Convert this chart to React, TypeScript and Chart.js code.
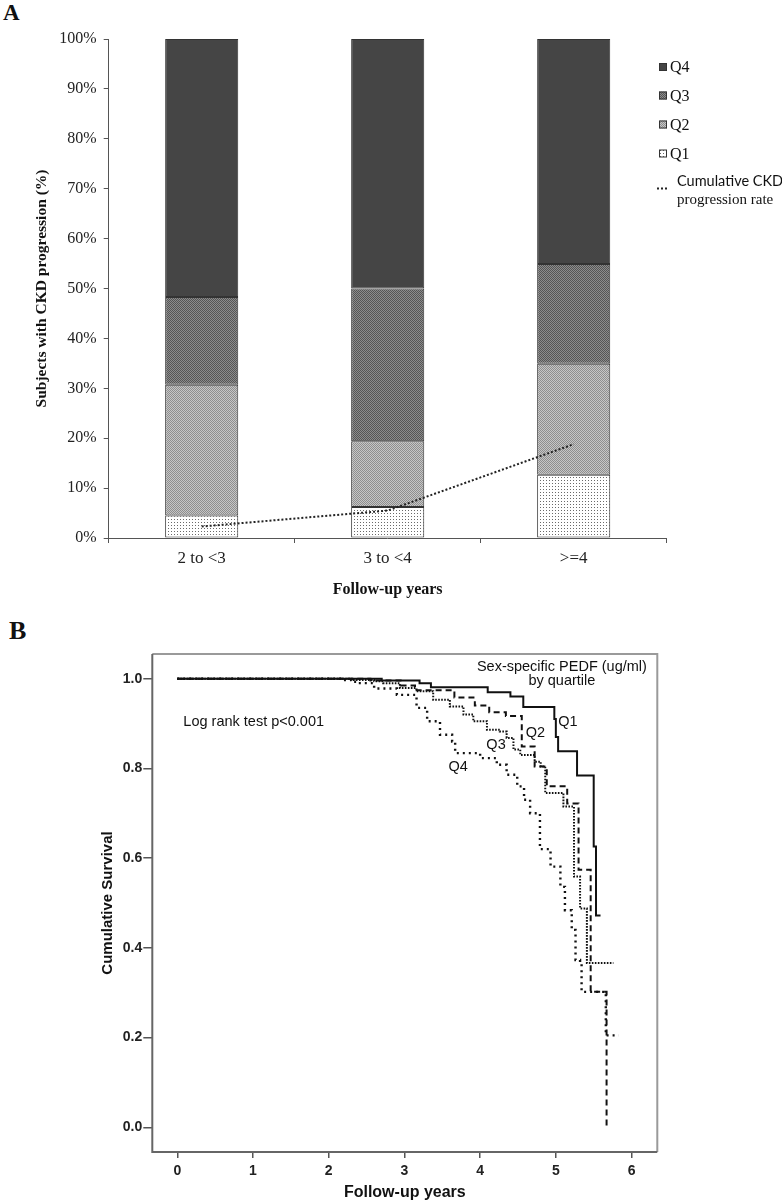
import React, { useEffect, useRef } from 'react';
import { Chart, registerables } from 'chart.js';

Chart.register(...registerables);

// ---------- Panel A data ----------
const followUpGroups = ['2 to <3', '3 to <4', '>=4'];
const q1Share = [4.5, 6.2, 12.7];
const q2Share = [26.2, 13.2, 22.2];
const q3Share = [17.6, 30.6, 20.0];
const q4Share = [51.7, 50.0, 45.1];
const cumulativeRate = [2.3, 5.5, 18.8];
const percentTicks = [0, 10, 20, 30, 40, 50, 60, 70, 80, 90, 100];

// ---------- Panel B data (Kaplan-Meier) ----------
const yearTicks = [0, 1, 2, 3, 4, 5, 6];
const survivalTicks = [0, 0.2, 0.4, 0.6, 0.8, 1.0];

const q1Years = [0, 2.7, 3.2, 3.35, 4.1, 4.4, 4.57, 4.98, 5.0, 5.03, 5.28, 5.5, 5.53, 5.59];
const q1Survival = [1, 0.996, 0.99, 0.981, 0.97, 0.96, 0.937, 0.91, 0.87, 0.838, 0.784, 0.626, 0.472, 0.472];

const q2Years = [0, 2.55, 2.95, 3.14, 3.66, 3.93, 4.12, 4.34, 4.55, 4.72, 4.88, 5.15, 5.3, 5.46, 5.67];
const q2Survival = [1, 0.996, 0.985, 0.974, 0.958, 0.94, 0.925, 0.917, 0.849, 0.804, 0.76, 0.722, 0.574, 0.302, 0.0];

const q3Years = [0, 2.3, 2.6, 2.72, 2.94, 3.16, 3.38, 3.6, 3.78, 3.91, 4.09, 4.26, 4.35, 4.44, 4.53, 4.72, 4.8, 4.86, 5.1, 5.24, 5.32, 5.41, 5.76];
const q3Survival = [1, 0.997, 0.994, 0.99, 0.979, 0.972, 0.953, 0.938, 0.92, 0.905, 0.886, 0.882, 0.868, 0.842, 0.83, 0.815, 0.804, 0.745, 0.715, 0.559, 0.488, 0.366, 0.366];

const q4Years = [0, 2.15, 2.3, 2.37, 2.6, 2.9, 3.16, 3.3, 3.47, 3.63, 3.67, 4.0, 4.22, 4.35, 4.49, 4.58, 4.66, 4.79, 4.93, 5.06, 5.12, 5.21, 5.26, 5.32, 5.34, 5.66, 5.83];
const q4Survival = [1, 0.997, 0.993, 0.99, 0.978, 0.964, 0.935, 0.905, 0.875, 0.86, 0.834, 0.823, 0.808, 0.786, 0.76, 0.73, 0.7, 0.62, 0.581, 0.536, 0.484, 0.44, 0.373, 0.365, 0.302, 0.205, 0.205];

const SERIF = '"Liberation Serif", "Times New Roman", serif';
const SANS = '"Liberation Sans", Arial, sans-serif';

function makePattern(bg: string, fg: string, size: number, cells: number[][]) {
  const c = document.createElement('canvas');
  c.width = size;
  c.height = size;
  const g = c.getContext('2d') as CanvasRenderingContext2D;
  g.fillStyle = bg;
  g.fillRect(0, 0, size, size);
  g.fillStyle = fg;
  cells.forEach(([x, y]) => g.fillRect(x, y, 1, 1));
  return g.createPattern(c, 'repeat') as CanvasPattern;
}

const legendAPlugin = {
  id: 'legendA',
  afterDraw(chart: any) {
    const ctx = chart.ctx as CanvasRenderingContext2D;
    const ds = chart.data.datasets;
    const rows = [
      { idx: 4, y: 67 },
      { idx: 3, y: 95.5 },
      { idx: 2, y: 124.5 },
      { idx: 1, y: 153.5 },
    ];
    ctx.save();
    rows.forEach((r) => {
      ctx.fillStyle = ds[r.idx].backgroundColor;
      ctx.fillRect(659, r.y - 4, 8, 8);
      ctx.strokeStyle = '#333';
      ctx.lineWidth = 1;
      ctx.strokeRect(659.5, r.y - 3.5, 7, 7);
      ctx.fillStyle = '#111';
      ctx.font = `16px ${SERIF}`;
      ctx.textBaseline = 'middle';
      ctx.textAlign = 'left';
      ctx.fillText(ds[r.idx].label, 670, r.y + 1);
    });
    // cumulative line symbol
    ctx.strokeStyle = '#222';
    ctx.lineWidth = 2;
    ctx.setLineDash([2, 2]);
    ctx.beginPath();
    ctx.moveTo(657, 188.5);
    ctx.lineTo(669, 188.5);
    ctx.stroke();
    ctx.setLineDash([]);
    ctx.fillStyle = '#111';
    ctx.font = `14.5px Lato, ${SANS}`;
    ctx.fillText('Cumulative CKD', 677, 181);
    ctx.font = `15px ${SERIF}`;
    ctx.fillText('progression rate', 677, 200);
    ctx.restore();
  },
};

const kmPlugin = {
  id: 'kmDecor',
  beforeDatasetsDraw(chart: any) {
    const { ctx, chartArea: a } = chart;
    ctx.save();
    ctx.lineWidth = 2;
    ctx.strokeStyle = '#9a9a9a';
    ctx.beginPath();
    ctx.moveTo(a.left, a.top);
    ctx.lineTo(a.right, a.top);
    ctx.lineTo(a.right, a.bottom);
    ctx.stroke();
    ctx.strokeStyle = '#666';
    ctx.beginPath();
    ctx.moveTo(a.left, a.top);
    ctx.lineTo(a.left, a.bottom);
    ctx.lineTo(a.right, a.bottom);
    ctx.stroke();
    ctx.restore();
  },
  afterDraw(chart: any) {
    const { ctx, scales } = chart;
    const xs = scales.x;
    const ys = scales.y;
    ctx.save();
    ctx.fillStyle = '#111';
    ctx.textBaseline = 'middle';
    ctx.font = `14.5px ${SANS}`;
    ctx.textAlign = 'center';
    ctx.fillText('Sex-specific PEDF (ug/ml)', xs.getPixelForValue(5.08), ys.getPixelForValue(1.026));
    ctx.fillText('by quartile', xs.getPixelForValue(5.08), ys.getPixelForValue(0.995));
    ctx.textAlign = 'left';
    ctx.fillText('Log rank test p<0.001', xs.getPixelForValue(0.08), ys.getPixelForValue(0.904));
    ctx.textAlign = 'center';
    const labels = [
      { t: 'Q1', x: 5.16, y: 0.904 },
      { t: 'Q2', x: 4.73, y: 0.879 },
      { t: 'Q3', x: 4.21, y: 0.852 },
      { t: 'Q4', x: 3.71, y: 0.804 },
    ];
    labels.forEach((l) => ctx.fillText(l.t, xs.getPixelForValue(l.x), ys.getPixelForValue(l.y)));
    ctx.restore();
  },
};

function toPoints(xs: number[], ys: number[]) {
  return xs.map((x, i) => ({ x, y: ys[i] }));
}

export default function App() {
  const refA = useRef<HTMLCanvasElement>(null);
  const refB = useRef<HTMLCanvasElement>(null);

  useEffect(() => {
    const pQ3 = makePattern('#8c8c8c', '#555555', 2, [[0, 0], [1, 1]]);
    const pQ2 = makePattern('#c6c6c6', '#8e8e8e', 2, [[0, 0], [1, 1]]);
    const pQ1 = makePattern('#ffffff', '#6a6a6a', 3, [[0, 0]]);

    const chartA = new Chart(refA.current as HTMLCanvasElement, {
      type: 'bar',
      data: {
        labels: followUpGroups,
        datasets: [
          {
            type: 'line',
            label: 'Cumulative CKD progression rate',
            data: cumulativeRate,
            stack: 'cumulative',
            borderColor: '#222',
            borderWidth: 2,
            borderDash: [2, 2],
            pointRadius: 0,
            fill: false,
            order: 0,
          } as any,
          { label: 'Q1', data: q1Share, backgroundColor: pQ1, borderColor: '#333', borderWidth: 1, borderSkipped: false, stack: 'q', order: 1 },
          { label: 'Q2', data: q2Share, backgroundColor: pQ2, borderColor: '#333', borderWidth: 1, borderSkipped: false, stack: 'q', order: 1 },
          { label: 'Q3', data: q3Share, backgroundColor: pQ3, borderColor: '#333', borderWidth: 1, borderSkipped: false, stack: 'q', order: 1 },
          { label: 'Q4', data: q4Share, backgroundColor: '#454545', borderColor: '#333', borderWidth: 1, borderSkipped: false, stack: 'q', order: 1 },
        ],
      },
      options: {
        responsive: false,
        animation: false,
        layout: { padding: { top: 39, right: 115.3, left: 0, bottom: 0 } },
        datasets: { bar: { barPercentage: 0.393, categoryPercentage: 1 } },
        plugins: { legend: { display: false }, tooltip: { enabled: false } },
        scales: {
          x: {
            stacked: true,
            grid: { offset: true, drawOnChartArea: false, drawTicks: true, tickLength: 5, color: '#555' },
            border: { display: true, color: '#555', width: 1 },
            ticks: { font: { family: SERIF, size: 17 }, color: '#222', padding: 5.8 },
            title: {
              display: true,
              text: 'Follow-up years',
              font: { family: SERIF, size: 16, weight: 'bold' },
              color: '#111',
              padding: { top: 0, bottom: 0.4 },
            },
            afterFit: (s: any) => {
              s.height = 62;
            },
          },
          y: {
            stacked: true,
            min: 0,
            max: 100,
            afterBuildTicks: (s: any) => {
              s.ticks = percentTicks.map((v) => ({ value: v }));
            },
            ticks: {
              callback: (v: any) => `${v}%`,
              font: { family: SERIF, size: 16 },
              color: '#222',
              padding: 7,
            },
            grid: { drawOnChartArea: false, drawTicks: true, tickLength: 5, color: '#555' },
            border: { display: true, color: '#555', width: 1 },
            title: {
              display: true,
              text: 'Subjects with CKD progression (%)',
              font: { family: SERIF, size: 15.5, weight: 'bold' },
              color: '#111',
              padding: { top: 32.7, bottom: 0 },
            },
            afterFit: (s: any) => {
              s.width = 108.7;
            },
          },
        },
      } as any,
      plugins: [legendAPlugin],
    });

    const chartB = new Chart(refB.current as HTMLCanvasElement, {
      type: 'line',
      data: {
        datasets: [
          { label: 'Q1', data: toPoints(q1Years, q1Survival), stepped: true, borderColor: '#111', borderWidth: 2, pointRadius: 0, fill: false },
          { label: 'Q2', data: toPoints(q2Years, q2Survival), stepped: true, borderColor: '#111', borderWidth: 2, borderDash: [6, 4], pointRadius: 0, fill: false },
          { label: 'Q3', data: toPoints(q3Years, q3Survival), stepped: true, borderColor: '#111', borderWidth: 2, borderDash: [1.6, 1.4], pointRadius: 0, fill: false },
          { label: 'Q4', data: toPoints(q4Years, q4Survival), stepped: true, borderColor: '#111', borderWidth: 2.4, borderDash: [2, 4], pointRadius: 0, fill: false },
        ],
      },
      options: {
        responsive: false,
        animation: false,
        layout: { padding: { top: 54, right: 124.7, left: 0, bottom: 0 } },
        plugins: { legend: { display: false }, tooltip: { enabled: false } },
        scales: {
          x: {
            type: 'linear',
            min: -0.33,
            max: 6.34,
            afterBuildTicks: (s: any) => {
              s.ticks = yearTicks.map((v) => ({ value: v }));
            },
            ticks: { font: { family: SANS, size: 14, weight: 'bold' }, color: '#222', padding: 4.6 },
            grid: { drawOnChartArea: false, drawTicks: true, tickLength: 6, color: '#555', lineWidth: 1.5 },
            border: { display: false },
            title: {
              display: true,
              text: 'Follow-up years',
              font: { family: SANS, size: 16, weight: 'bold' },
              color: '#111',
              padding: { top: 0, bottom: 0.4 },
            },
            afterFit: (s: any) => {
              s.height = 51;
            },
          },
          y: {
            type: 'linear',
            min: -0.055,
            max: 1.055,
            afterBuildTicks: (s: any) => {
              s.ticks = survivalTicks.map((v) => ({ value: v }));
            },
            ticks: {
              callback: (v: any) => Number(v).toFixed(1),
              font: { family: SANS, size: 14, weight: 'bold' },
              color: '#222',
              padding: 1,
            },
            grid: { drawOnChartArea: false, drawTicks: true, tickLength: 9, color: '#555', lineWidth: 1.5 },
            border: { display: false },
            title: {
              display: true,
              text: 'Cumulative Survival',
              font: { family: SANS, size: 15, weight: 'bold' },
              color: '#111',
              padding: { top: 98.5, bottom: 0 },
            },
            afterFit: (s: any) => {
              s.width = 152.3;
            },
          },
        },
      } as any,
      plugins: [kmPlugin],
    });

    return () => {
      chartA.destroy();
      chartB.destroy();
    };
  }, []);

  return (
    <div style={{ position: 'absolute', left: 0, top: 0, width: 782, height: 1203, background: '#fff', overflow: 'hidden' }}>
      <div style={{ position: 'absolute', left: 3, top: 1, font: `bold 23px/23px ${SERIF}`, color: '#111' }}>A</div>
      <canvas ref={refA} width={782} height={600} style={{ position: 'absolute', left: 0, top: 0, width: 782, height: 600 }} />
      <div style={{ position: 'absolute', left: 9, top: 618, font: `bold 26px/26px ${SERIF}`, color: '#111' }}>B</div>
      <canvas ref={refB} width={782} height={603} style={{ position: 'absolute', left: 0, top: 600, width: 782, height: 603 }} />
    </div>
  );
}
